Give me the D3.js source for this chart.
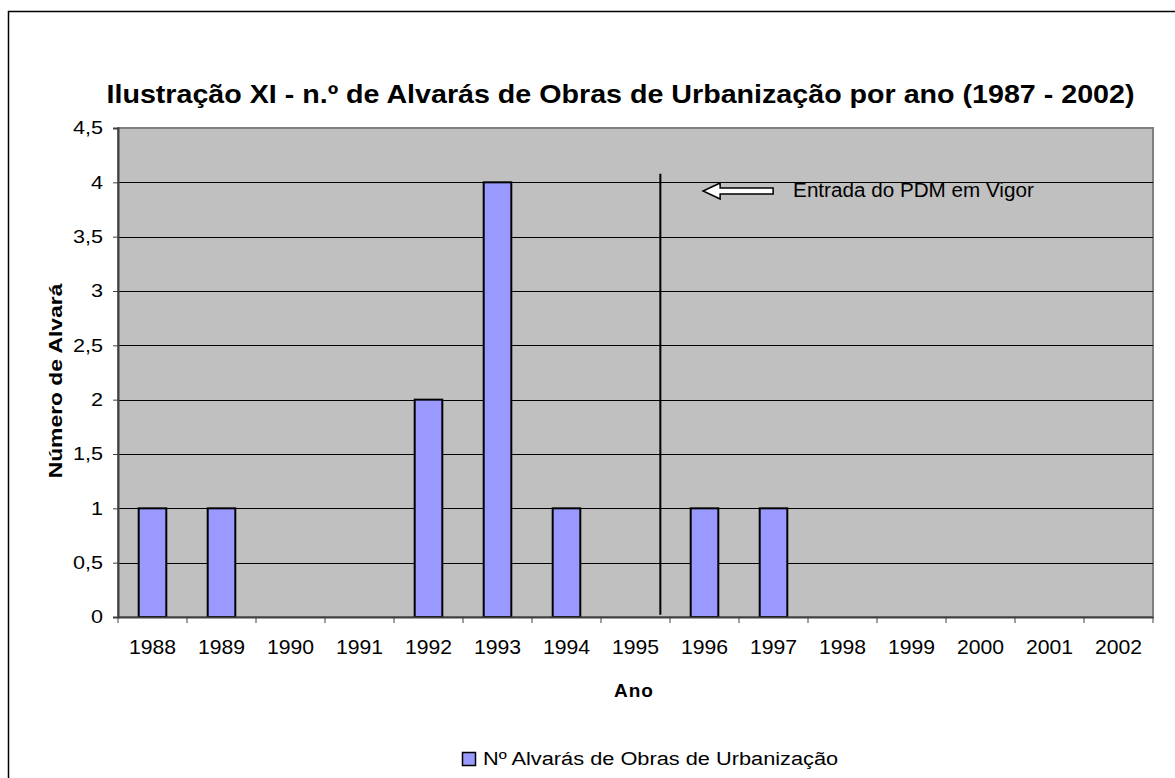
<!DOCTYPE html>
<html><head><meta charset="utf-8">
<script src="https://cdn.jsdelivr.net/npm/d3@7"></script>
<style>body{margin:0;background:#fff}svg{display:block}text{font-family:"Liberation Sans",Arial,sans-serif}</style>
</head><body><svg id="c" width="1175" height="778"></svg>
<script>
const years = ["1988","1989","1990","1991","1992","1993","1994","1995","1996","1997","1998","1999","2000","2001","2002"];
const counts = [1,1,0,0,2,4,1,0,1,1,0,0,0,0,0];
const yTicks = [0,0.5,1,1.5,2,2.5,3,3.5,4,4.5];
const seriesName = "Nº Alvarás de Obras de Urbanização";
const title = "Ilustração XI - n.º de Alvarás de Obras de Urbanização por ano (1987 - 2002)";
const annotation = "Entrada do PDM em Vigor";
const markerYear = "1995";

const svg = d3.select("#c");
const L=118, R=1153, T=128, B=617;
const FF = "'Liberation Sans',Arial,sans-serif";

// horizontal stretch helper (around text anchor point)
function stretch(sel, k){
  sel.each(function(){
    const t = d3.select(this);
    const x0 = +t.attr("x")||0, y0 = +t.attr("y")||0;
    const prev = t.attr("transform")||"";
    t.attr("transform", `${prev} translate(${x0},${y0}) scale(${k},1) translate(${-x0},${-y0})`);
  });
}

svg.append("rect").attr("x",8.5).attr("y",11.5).attr("width",1200).attr("height",800)
  .attr("fill","#fff").attr("stroke","#000").attr("stroke-width",1.5);

const x = d3.scaleBand().domain(years).range([L,R]);
const y = d3.scaleLinear().domain([0,4.5]).range([B,T]);

svg.append("rect").attr("x",L).attr("y",T).attr("width",R-L).attr("height",B-T)
  .attr("fill","#c0c0c0").attr("stroke","#808080").attr("stroke-width",2);

svg.append("g").selectAll("line").data(yTicks.filter(d=>d>0&&d<4.5)).join("line")
  .attr("x1",L).attr("x2",R).attr("y1",d=>Math.round(y(d))+0.5).attr("y2",d=>Math.round(y(d))+0.5)
  .attr("stroke","#000").attr("stroke-width",1);

const bw = x.bandwidth()*0.4;
svg.append("g").selectAll("rect").data(years.map((d,i)=>({year:d,v:counts[i]})).filter(d=>d.v>0)).join("rect")
  .attr("x",d=>x(d.year)+x.bandwidth()/2-bw/2).attr("width",bw)
  .attr("y",d=>y(d.v)).attr("height",d=>y(0)-y(d.v))
  .attr("fill","#9999ff").attr("stroke","#000").attr("stroke-width",2);

const fmt = d=>String(d).replace(".",",");
const ya = svg.append("g").attr("transform",`translate(${L},0)`)
  .call(d3.axisLeft(y).tickValues(yTicks).tickFormat(fmt).tickSize(5).tickPadding(10));
ya.select(".domain").attr("stroke","#404040").attr("stroke-width",2);
ya.selectAll(".tick line").attr("stroke","#404040");
ya.selectAll("text").attr("font-size",18).attr("fill","#000").style("font-family",FF).call(stretch,1.2);

const xa = svg.append("g").attr("transform",`translate(0,${B})`)
  .call(d3.axisBottom(x).tickSize(0).tickPadding(23));
xa.select(".domain").attr("stroke","#404040").attr("stroke-width",2);
xa.selectAll("text").attr("font-size",20).attr("fill","#000").style("font-family",FF).call(stretch,1.06);
svg.append("g").selectAll("line").data(years.concat(["end"])).join("line")
  .attr("x1",(d,i)=>L+i*x.step()).attr("x2",(d,i)=>L+i*x.step())
  .attr("y1",B).attr("y2",B+6).attr("stroke","#404040").attr("stroke-width",1);

const mx = x(markerYear)+x.bandwidth()*0.86;
svg.append("line").attr("x1",mx).attr("x2",mx).attr("y1",y(4.08)).attr("y2",y(0.02))
  .attr("stroke","#000").attr("stroke-width",2);

const ax0 = x(markerYear)+x.step()*1.48, ax1 = ax0+70, ay = y(3.92);
svg.append("path")
  .attr("d",`M${ax0},${ay} L${ax0+17},${ay-8} L${ax0+17},${ay-3} L${ax1},${ay-3} L${ax1},${ay+3} L${ax0+17},${ay+3} L${ax0+17},${ay+8} Z`)
  .attr("fill","#fff").attr("stroke","#000").attr("stroke-width",1.5);
svg.append("text").attr("x",ax1+20).attr("y",ay+6).attr("font-size",19.5).text(annotation).call(stretch,1.06);

svg.append("text").attr("x",620.5).attr("y",103).attr("text-anchor","middle")
  .attr("font-size",25).attr("font-weight","bold").text(title).call(stretch,1.146);

svg.append("text").attr("transform",`translate(62,381) rotate(-90) scale(1.27,1)`).attr("text-anchor","middle")
  .attr("font-size",18).attr("font-weight","bold").text("Número de Alvará");
svg.append("text").attr("x",634).attr("y",697).attr("text-anchor","middle")
  .attr("font-size",19).attr("font-weight","bold").attr("letter-spacing",1).text("Ano");

svg.append("rect").attr("x",462.5).attr("y",752.5).attr("width",13).attr("height",13)
  .attr("fill","#9999ff").attr("stroke","#000").attr("stroke-width",1.5);
svg.append("text").attr("x",483).attr("y",765).attr("font-size",18).text(seriesName).call(stretch,1.21);
</script></body></html>
